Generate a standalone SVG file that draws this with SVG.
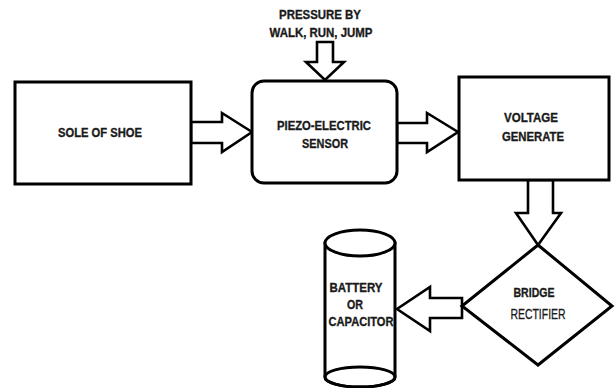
<svg xmlns="http://www.w3.org/2000/svg" width="616" height="388" viewBox="0 0 616 388">
<style>
.box{fill:#fff;stroke:#000;stroke-width:3}
.arr{fill:#fff;stroke:#000;stroke-width:2.6;stroke-linejoin:miter}
.t{font-family:"Liberation Sans",Arial,sans-serif;font-weight:bold;font-size:13px;fill:#1a1a1a;stroke:#1a1a1a;stroke-width:0.35;text-anchor:middle}
.n{font-weight:normal;font-size:14px;stroke-width:0.3}
</style>
<rect width="616" height="388" fill="#fff"/>
<g id="connectors">
<polygon class="arr" points="191,122 222,122 222,113 252,132 222,152 222,143 191,143"/>
<polygon class="arr" points="397,123 427,123 427,113 458,132 427,152 427,143 397,143"/>
<polygon class="arr" points="317,42 333,42 333,62 344,62 325,80 306,62 317,62"/>
<polygon class="arr" points="528,180 553,180 553,213 561,213 538,245 516,213 528,213"/>
<polygon class="arr" points="462,298 430,298 430,287 397,309 430,331 430,318 462,318"/>
</g>
<g id="pressure">
<text class="t" x="320" y="19" textLength="82" lengthAdjust="spacingAndGlyphs">PRESSURE BY</text>
<text class="t" x="321" y="37" textLength="103" lengthAdjust="spacingAndGlyphs">WALK, RUN, JUMP</text>
</g>
<g id="sole">
<rect class="box" x="15" y="82" width="176" height="102"/>
<text class="t" x="100" y="137" textLength="84" lengthAdjust="spacingAndGlyphs">SOLE OF SHOE</text>
</g>
<g id="piezo">
<rect class="box" x="252" y="81" width="145" height="102" rx="12"/>
<text class="t" x="324" y="130" textLength="94" lengthAdjust="spacingAndGlyphs">PIEZO-ELECTRIC</text>
<text class="t" x="325" y="148" textLength="46" lengthAdjust="spacingAndGlyphs">SENSOR</text>
</g>
<g id="voltage">
<rect class="box" x="459" y="77" width="150" height="103"/>
<text class="t" x="531" y="122" textLength="54" lengthAdjust="spacingAndGlyphs">VOLTAGE</text>
<text class="t" x="533" y="141" textLength="62" lengthAdjust="spacingAndGlyphs">GENERATE</text>
</g>
<g id="rectifier">
<polygon class="box" points="538,245 612,306 538,365 462,306" stroke-width="2.6"/>
<text class="t" x="534" y="297" textLength="41" lengthAdjust="spacingAndGlyphs">BRIDGE</text>
<text class="t n" x="538" y="319" textLength="55" lengthAdjust="spacingAndGlyphs">RECTIFIER</text>
</g>
<g id="battery">
<path class="box" d="M325,243 V377 A35,10 0 0 0 395,377 V243 Z"/>
<ellipse class="box" cx="360" cy="377" rx="35" ry="10" style="fill:none"/>
<ellipse class="box" cx="360" cy="243" rx="35" ry="13"/>
<text class="t" x="356" y="292" textLength="53" lengthAdjust="spacingAndGlyphs">BATTERY</text>
<text class="t" x="355" y="309" textLength="16" lengthAdjust="spacingAndGlyphs">OR</text>
<text class="t" x="361" y="326" textLength="65" lengthAdjust="spacingAndGlyphs">CAPACITOR</text>
</g>
</svg>
